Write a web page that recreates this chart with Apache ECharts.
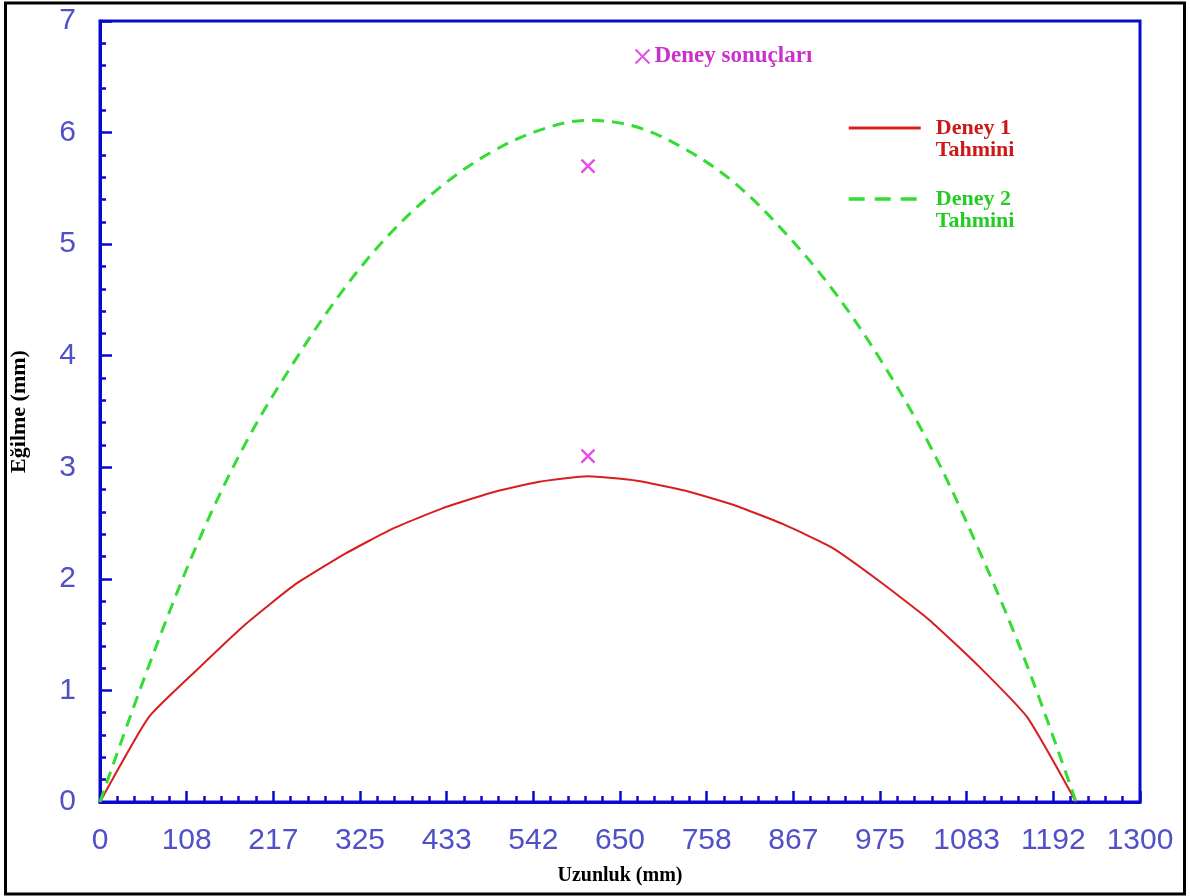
<!DOCTYPE html>
<html>
<head>
<meta charset="utf-8">
<title>Eğilme - Uzunluk</title>
<script src="https://cdn.jsdelivr.net/npm/echarts@6/dist/echarts.min.js"></script>
<style>
  html, body { margin: 0; padding: 0; background: #ffffff; }
  #chart { width: 1190px; height: 896px; }
</style>
</head>
<body>
<div id="chart"></div>
<script>
// Beam length positions (mm)
const positions = [0, 61, 122, 183, 244, 305, 366, 427, 488, 549, 610, 671, 732, 793, 854, 915, 976, 1037, 1098, 1159, 1220];
// Predicted deflection, experiment 1 (mm)
const deney1Tahmini = [0, 0.76, 1.19, 1.60, 1.95, 2.22, 2.45, 2.63, 2.77, 2.87, 2.92, 2.88, 2.79, 2.66, 2.49, 2.28, 1.97, 1.63, 1.22, 0.76, 0];
// Predicted deflection, experiment 2 (mm)
const deney2Tahmini = [0, 1.22, 2.32, 3.23, 3.96, 4.60, 5.12, 5.52, 5.82, 6.02, 6.11, 6.05, 5.85, 5.55, 5.12, 4.60, 3.96, 3.20, 2.27, 1.22, 0];
// Measured mid-span deflections
const olcumX = [610, 610];
const olcumY = [3.1, 5.7];
// Axis tick labels
const xTickLabels = ['0', '108', '217', '325', '433', '542', '650', '758', '867', '975', '1083', '1192', '1300'];
const yTickLabels = ['0', '1', '2', '3', '4', '5', '6', '7'];

const xMax = 1300;
const xStep = xMax / (xTickLabels.length - 1);
const axisBlue = '#0a0acc';
const labelBlue = '#5050c8';
const magenta = '#e022e0';
const red = '#d81e1e';
const green = '#33dd33';
const serif = '"Liberation Serif", "Times New Roman", serif';

const toPairs = (xs, ys) => xs.map((x, i) => [x, ys[i]]);

const chart = echarts.init(document.getElementById('chart'), null, { renderer: 'canvas' });

chart.setOption({
  backgroundColor: '#ffffff',
  animation: false,
  grid: {
    left: 100, top: 21, right: 50, bottom: 94,
    show: true, borderColor: axisBlue, borderWidth: 3, backgroundColor: 'transparent'
  },
  xAxis: {
    type: 'value',
    min: 0, max: xMax, interval: xStep,
    name: 'Uzunluk (mm)',
    nameLocation: 'middle',
    nameGap: 64,
    nameTextStyle: { fontFamily: serif, fontWeight: 'bold', fontSize: 20, color: '#000' },
    axisLine: { show: true, lineStyle: { color: axisBlue, width: 3 } },
    axisTick: { show: true, inside: true, length: 11, lineStyle: { color: axisBlue, width: 2.5 } },
    minorTick: { show: true, splitNumber: 5, length: 6, lineStyle: { color: axisBlue, width: 2.5 } },
    splitLine: { show: false },
    axisLabel: {
      margin: 24,
      fontFamily: '"Liberation Sans", Arial, sans-serif',
      fontSize: 30,
      color: labelBlue,
      formatter: v => xTickLabels[Math.round(v / xStep)]
    }
  },
  yAxis: {
    type: 'value',
    min: 0, max: 7, interval: 1,
    name: 'Eğilme (mm)',
    nameLocation: 'middle',
    nameGap: 70,
    nameTextStyle: { fontFamily: serif, fontWeight: 'bold', fontSize: 22, color: '#000' },
    axisLine: { show: true, lineStyle: { color: axisBlue, width: 3 } },
    axisTick: { show: true, inside: true, length: 12, lineStyle: { color: axisBlue, width: 2.5 } },
    minorTick: { show: true, splitNumber: 5, length: 6, lineStyle: { color: axisBlue, width: 2.5 } },
    splitLine: { show: false },
    axisLabel: {
      margin: 24,
      fontFamily: '"Liberation Sans", Arial, sans-serif',
      fontSize: 30,
      color: labelBlue,
      formatter: v => yTickLabels[Math.round(v)]
    }
  },
  legend: [
    {
      left: 628, top: 40,
      itemWidth: 14, itemHeight: 14,
      data: [{ name: 'Deney sonuçları' }],
      textStyle: { fontFamily: serif, fontWeight: 'bold', fontSize: 23, color: '#cc30cc' }
    },
    {
      left: 842, top: 90,
      orient: 'vertical',
      itemWidth: 72, itemHeight: 14, itemGap: 5,
      itemStyle: { opacity: 0 },
      data: [
        {
          name: 'Deney 1 Tahmini',
          textStyle: { color: '#cc1818' },
          lineStyle: { color: red, width: 3 }
        },
        {
          name: 'Deney 2 Tahmini',
          textStyle: { color: '#22cc22' },
          lineStyle: { color: green, width: 3.5, type: [16, 10] }
        }
      ],
      formatter: name => '\n' + name.replace(' Tahmini', '\nTahmini'),
      textStyle: { fontFamily: serif, fontWeight: 'bold', fontSize: 22, lineHeight: 22, padding: [0, 0, 0, 10] }
    }
  ],
  series: [
    {
      name: 'Deney 1 Tahmini',
      type: 'line',
      symbol: 'none',
      smooth: 0.15,
      data: toPairs(positions, deney1Tahmini),
      lineStyle: { color: red, width: 2 },
      itemStyle: { color: red },
      z: 3
    },
    {
      name: 'Deney 2 Tahmini',
      type: 'line',
      symbol: 'none',
      smooth: 0.35,
      data: toPairs(positions, deney2Tahmini),
      lineStyle: { color: green, width: 3, type: [12, 8] },
      itemStyle: { color: green },
      z: 3
    },
    {
      name: 'Deney sonuçları',
      type: 'scatter',
      symbol: 'path://M0,0L10,10M10,0L0,10',
      symbolSize: 13,
      data: toPairs(olcumX, olcumY),
      itemStyle: { color: 'none', borderColor: magenta, borderWidth: 2.5 },
      z: 4
    }
  ],
  graphic: [
    {
      type: 'rect',
      silent: true,
      shape: { x: 5.5, y: 3, width: 1179, height: 891 },
      style: { fill: 'none', stroke: '#000', lineWidth: 3 }
    }
  ]
});
</script>
</body>
</html>
